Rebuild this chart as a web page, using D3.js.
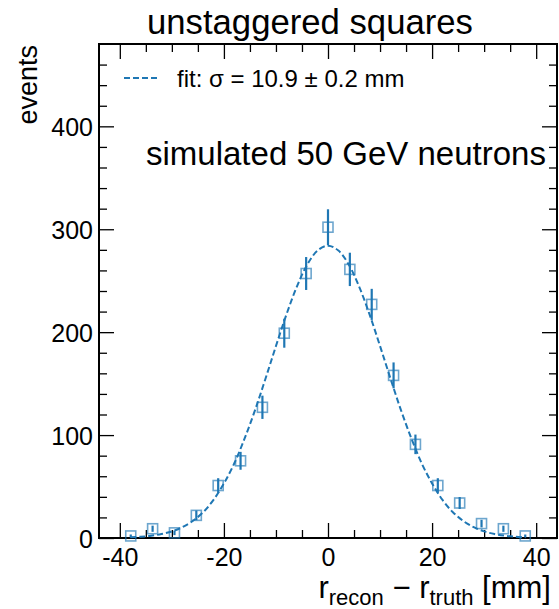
<!DOCTYPE html>
<html>
<head>
<meta charset="utf-8">
<script src="https://cdn.jsdelivr.net/npm/d3@7"></script>
<style>
  body { margin: 0; background: #fff; }
  text { font-family: "Liberation Sans", Arial, sans-serif; fill: #000; }
</style>
</head>
<body>
<script>
// histogram bins (19 bins from -40 to 40)
const binCenters = [-37.9, -33.7, -29.5, -25.3, -21.1, -16.8, -12.6, -8.4, -4.2, 0,
                    4.2, 8.4, 12.6, 16.8, 21.1, 25.3, 29.5, 33.7, 37.9];
const counts = [2, 9, 5, 22, 51, 75, 127, 199, 257, 302, 261, 227, 158, 91, 51, 34, 14, 9, 2];
const errors = [1.4, 3, 2.2, 4.7, 7.1, 8.7, 11.3, 14.1, 16, 17.4, 16.2, 15.1, 12.6, 9.5, 7.1, 5.8, 3.7, 3, 1.4];

// fitted curve
const fitX = [-38, -36, -34, -32, -30, -28, -26, -24, -22, -20, -18, -16, -14, -12, -10, -8, -6, -4, -2, 0,
              2, 4, 6, 8, 10, 12, 14, 16, 18, 20, 22, 24, 26, 28, 30, 32, 34, 36, 38];
const fitY = [0.65, 1.2, 2.2, 3.8, 6.4, 10.5, 16.5, 25, 37, 53, 72.6, 97, 124.5, 155, 186.5, 217, 244, 265.5, 279.3, 284,
              279.3, 265.5, 244, 217, 186.5, 155, 124.5, 97, 72.6, 53, 37, 25, 16.5, 10.5, 6.4, 3.8, 2.2, 1.2, 0.65];

const xMajor = [-40, -20, 0, 20, 40];
const yMajor = [0, 100, 200, 300, 400];

const W = 559, H = 609;
const pLeft = 99, pRight = 557, pTop = 44, pBottom = 538;
const blue = '#1f77b4';

const svg = d3.select('body').append('svg')
  .attr('width', W).attr('height', H);

const x = d3.scaleLinear().domain([-44, 44]).range([pLeft, pRight]);
const y = d3.scaleLinear().domain([0, 480]).range([pBottom, pTop]);

const xMinor = d3.range(-40, 45, 5).filter(v => xMajor.indexOf(v) < 0);
const yMinor = d3.range(20, 480, 20).filter(v => yMajor.indexOf(v) < 0);

// axes (ticks pointing inward on every side)
function tickAxis(axisFn, scale, vals, size, withLabels) {
  return axisFn(scale).tickValues(vals).tickSizeInner(-size).tickSizeOuter(0)
    .tickFormat(withLabels ? d3.format('d') : '');
}
const gx = svg.append('g').attr('transform', `translate(0,${pBottom})`);
gx.call(tickAxis(d3.axisBottom, x, xMajor, 15, true));
gx.append('g').call(tickAxis(d3.axisBottom, x, xMinor, 8, false));
const gxt = svg.append('g').attr('transform', `translate(0,${pTop})`);
gxt.call(tickAxis(d3.axisTop, x, xMajor, 15, false));
gxt.append('g').call(tickAxis(d3.axisTop, x, xMinor, 8, false));
const gy = svg.append('g').attr('transform', `translate(${pLeft},0)`);
gy.call(tickAxis(d3.axisLeft, y, yMajor, 15, true));
gy.append('g').call(tickAxis(d3.axisLeft, y, yMinor, 8, false));
const gyr = svg.append('g').attr('transform', `translate(${pRight},0)`);
gyr.call(tickAxis(d3.axisRight, y, yMajor, 15, false));
gyr.append('g').call(tickAxis(d3.axisRight, y, yMinor, 8, false));

svg.selectAll('.domain').remove();
svg.selectAll('.tick line').attr('stroke', '#000').attr('stroke-width', 1.3);
gx.selectAll(':scope > .tick text').attr('y', 10).attr('dy', '0.71em')
  .style('font-size', '25px').style('font-family', '"Liberation Sans", Arial, sans-serif')
  .text(d => d < 0 ? '-' + Math.abs(d) : d);
gy.selectAll(':scope > .tick text').attr('x', -6).attr('dy', '0.36em')
  .style('font-size', '25px').style('font-family', '"Liberation Sans", Arial, sans-serif');

// frame
svg.append('rect').attr('x', pLeft).attr('y', pTop)
  .attr('width', pRight - pLeft).attr('height', pBottom - pTop)
  .attr('fill', 'none').attr('stroke', '#000').attr('stroke-width', 2);

// fit curve
const line = d3.line().x((d, i) => x(fitX[i])).y(d => y(d)).curve(d3.curveCatmullRom);
svg.append('path').datum(fitY).attr('d', line)
  .attr('fill', 'none').attr('stroke', blue).attr('stroke-width', 2)
  .attr('stroke-dasharray', '6,3');

// error bars
svg.selectAll('line.err').data(counts).enter().append('line').attr('class', 'err')
  .attr('x1', (d, i) => x(binCenters[i])).attr('x2', (d, i) => x(binCenters[i]))
  .attr('y1', (d, i) => y(d - errors[i])).attr('y2', (d, i) => y(d + errors[i]))
  .attr('stroke', blue).attr('stroke-width', 2.2);

// open square markers
const s = 10;
svg.selectAll('rect.pt').data(counts).enter().append('rect').attr('class', 'pt')
  .attr('x', (d, i) => x(binCenters[i]) - s / 2).attr('y', d => y(d) - s / 2)
  .attr('width', s).attr('height', s)
  .attr('fill', 'none').attr('stroke', blue).attr('stroke-opacity', 0.65).attr('stroke-width', 1.6);

// legend
svg.append('line').attr('x1', 124).attr('x2', 160).attr('y1', 78).attr('y2', 78)
  .attr('stroke', blue).attr('stroke-width', 2).attr('stroke-dasharray', '6,3');
svg.append('text').attr('x', 177).attr('y', 87).style('font-size', '24px')
  .text('fit: σ = 10.9 ± 0.2 mm');

// annotation
svg.append('text').attr('x', 146).attr('y', 165).style('font-size', '33px')
  .text('simulated 50 GeV neutrons');

// title
svg.append('text').attr('x', 147).attr('y', 34).style('font-size', '34.7px')
  .text('unstaggered squares');

// y label
svg.append('text').attr('transform', `translate(37,45) rotate(-90)`)
  .attr('text-anchor', 'end').style('font-size', '27px').text('events');

// x label
const xl = svg.append('text').attr('x', 551).attr('y', 598)
  .attr('text-anchor', 'end').style('font-size', '31px');
xl.append('tspan').text('r');
xl.append('tspan').attr('dy', 7).style('font-size', '22px').text('recon');
xl.append('tspan').attr('dy', -7).text(' − r');
xl.append('tspan').attr('dy', 7).style('font-size', '22px').text('truth');
xl.append('tspan').attr('dy', -7).text(' [mm]');
</script>
</body>
</html>
